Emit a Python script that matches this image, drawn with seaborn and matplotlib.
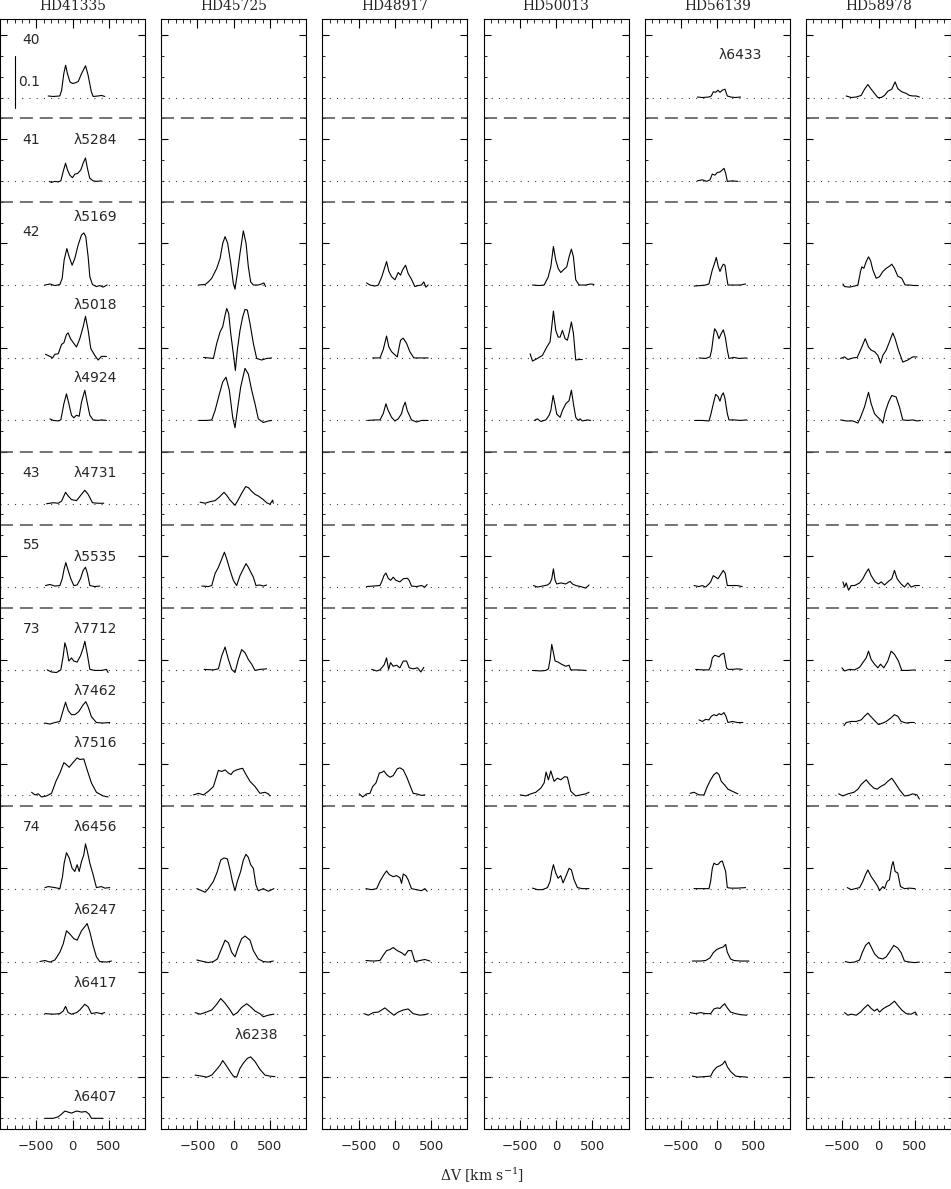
import numpy as np
import matplotlib
matplotlib.use("Agg")
import matplotlib.pyplot as plt
import seaborn as sns
from matplotlib.ticker import FixedLocator, NullFormatter, FixedFormatter

STARS = ["HD41335", "HD45725", "HD48917", "HD50013", "HD56139", "HD58978"]
ROWS = ["6433", "5284", "5169", "5018", "4924", "4731", "5535", "7712",
        "7462", "7516", "6456", "6247", "6417", "6238", "6407"]
BASELINES = [1.96, 1.80, 1.60, 1.46, 1.34, 1.18, 1.02, 0.86,
             0.76, 0.62, 0.44, 0.30, 0.20, 0.08, 0.00]
SEPARATORS = [1.92, 1.76, 1.28, 1.14, 0.98, 0.60]
MULTIPLETS = ["40", "41", "42", "43", "55", "73", "74"]
MULT_Y = [2.070, 1.879, 1.702, 1.240, 1.101, 0.940, 0.559]
XTICKS = [-500, 0, 500]
XTICKLABELS = ["\u2212500", "0", "500"]

# velocity (km/s) and relative flux for each emission profile
HD41335 = {
    "6433": ([-335,-265,-175,-150,-120,-95,-70,-35,0,35,80,125,180,215,260,285,355,400,445],
             [.003,.002,.003,.014,.046,.062,.046,.030,.027,.028,.031,.046,.061,.043,.011,.002,.003,.004,.002]),
    "5284": ([-320,-290,-243,-197,-161,-128,-96,-69,-37,0,32,69,115,147,179,206,238,284,330,399],
             [-.001,-.003,-.001,-.002,0,.018,.034,.021,.011,.006,.013,.014,.021,.034,.044,.024,.005,0,-.001,0]),
    "5169": ([-381,-312,-243,-174,-142,-115,-78,-46,-5,32,78,124,156,183,216,239,275,330,376,422,477],
             [0,.002,-.001,.001,.013,.048,.070,.054,.038,.051,.077,.096,.100,.093,.054,.016,.001,-.003,-.001,-.004,0]),
    "5018": ([-372,-312,-275,-243,-197,-151,-119,-83,-60,-28,18,55,101,147,179,216,252,307,353,399,468],
             [.007,.003,0,.007,.008,.026,.029,.045,.048,.037,.028,.021,.037,.060,.080,.053,.018,.005,-.004,.003,.003]),
    "4924": ([-312,-266,-197,-161,-119,-83,-50,-14,18,55,92,124,170,202,239,284,353,399,468],
             [.003,0,-.001,.001,.032,.051,.032,.010,.005,.010,.008,.035,.058,.035,.010,.001,0,.001,0]),
    "4731": ([-358,-266,-197,-151,-96,-60,-14,55,124,170,216,275,353,431],
             [0,.002,.001,.005,.022,.015,.008,.006,.018,.026,.018,.002,.001,.001]),
    "5535": ([-372,-312,-243,-174,-142,-115,-92,-60,-23,18,64,110,147,179,206,239,307,376],
             [.003,.005,.002,.003,.016,.035,.047,.032,.016,.003,.004,.016,.032,.038,.026,.003,.001,.002]),
    "7712": ([-349,-289,-220,-161,-128,-105,-83,-50,-14,18,64,110,147,170,202,239,307,399,468,491],
             [.001,-.003,-.004,.001,.028,.053,.043,.018,.024,.018,.016,.028,.043,.056,.033,.002,0,0,.002,-.004]),
    "7462": ([-381,-312,-243,-174,-128,-96,-60,-14,32,87,147,183,216,261,330,422,514],
             [-.001,-.003,0,.002,.024,.039,.023,.015,.015,.021,.034,.040,.030,.011,0,-.001,0]),
    "7516": ([-564,-518,-472,-427,-358,-289,-229,-174,-119,-83,-46,0,64,101,156,202,261,330,422,491],
             [.006,.001,.003,-.003,-.001,.004,.027,.043,.063,.059,.054,.062,.072,.069,.070,.049,.024,.006,-.001,-.003]),
    "6456": ([-381,-335,-243,-174,-138,-115,-83,-46,-5,32,64,92,124,156,179,206,239,284,330,399,445,514],
             [.003,.005,.003,.001,.024,.050,.070,.060,.040,.034,.047,.034,.053,.066,.087,.072,.050,.028,.003,.005,.002,.003]),
    "6247": ([-450,-381,-312,-243,-174,-128,-83,-37,18,64,124,202,239,284,330,376,468,537],
             [.001,.003,0,.004,.019,.035,.060,.054,.045,.042,.060,.074,.058,.032,.010,.001,0,.002]),
    "6417": ([-381,-266,-174,-128,-96,-60,-14,55,101,170,216,261,330,399,445],
             [.001,0,.001,.006,.015,.003,0,.003,.008,.019,.014,.001,.003,.001,.003]),
    "6407": ([-381,-266,-197,-151,-105,-60,-14,55,124,183,229,261,353,422],
             [0,0,.003,.008,.014,.012,.010,.014,.012,.013,.008,0,0,0]),
}

HD45725 = {
    "5169": ([-486,-394,-349,-303,-234,-188,-151,-119,-83,-41,-5,18,50,87,133,170,202,234,271,339,385,417,440],
             [0,.001,.006,.013,.032,.051,.080,.093,.080,.042,.003,-.008,.022,.061,.104,.080,.035,.006,0,0,.002,.004,-.003]),
    "5018": ([-417,-280,-234,-188,-151,-119,-96,-69,-41,-5,23,50,87,124,156,188,225,271,317,385,454,523],
             [.001,-.001,.028,.050,.060,.082,.095,.085,.047,.008,-.024,.015,.053,.079,.093,.092,.066,.028,-.001,-.004,-.001,0]),
    "4924": ([-477,-372,-303,-257,-197,-151,-106,-60,-14,18,50,96,156,202,248,294,339,408,477,523],
             [0,0,.001,.019,.051,.074,.083,.058,.006,-.014,.019,.064,.100,.089,.058,.032,.003,-.004,-.001,0]),
    "4731": ([-463,-395,-326,-257,-197,-133,-96,-50,18,64,110,165,202,248,294,339,408,454,500,537,546],
             [.003,.001,.004,.006,.013,.022,.016,.007,-.003,.008,.020,.033,.031,.024,.018,.015,.008,.002,-.001,.007,.001]),
    "5535": ([-440,-349,-303,-257,-211,-165,-128,-96,-50,-5,41,87,133,170,202,234,271,307,362,408,454],
             [.002,.001,.003,.026,.038,.054,.067,.054,.032,.013,.003,.022,.035,.045,.038,.029,.019,.003,.004,.002,.004]),
    "7712": ([-408,-280,-211,-165,-119,-73,-28,18,64,110,156,202,248,294,362,454],
             [.002,.001,.003,.028,.045,.021,.002,-.004,.021,.040,.034,.021,.012,0,.002,.003]),
    "7516": ([-555,-486,-417,-349,-280,-211,-165,-119,-73,-37,-5,41,87,124,170,225,294,362,431,477,500],
             [.001,.004,.001,.008,.017,.048,.046,.049,.043,.040,.046,.049,.051,.052,.040,.027,.017,.004,.006,.003,-.001]),
    "6456": ([-509,-440,-395,-349,-280,-225,-179,-133,-87,-50,-18,18,50,96,133,170,202,234,271,307,339,408,477,555],
             [.001,-.003,-.006,.001,.015,.034,.056,.060,.058,.037,.015,-.003,.015,.034,.056,.067,.061,.047,.040,.008,-.003,.001,-.004,.001]),
    "6247": ([-509,-417,-349,-280,-225,-179,-119,-73,-28,18,64,110,156,225,271,339,408,477,546],
             [.004,.001,-.001,.001,.006,.022,.042,.037,.019,.010,.029,.045,.050,.042,.022,.006,.001,0,.002]),
    "6417": ([-532,-463,-395,-303,-234,-179,-119,-50,-5,50,110,179,234,294,362,408,477,555],
             [.003,0,.003,.008,.019,.030,.021,.008,-.002,.003,.013,.020,.014,.006,.001,-.005,-.002,0]),
    "6238": ([-532,-440,-372,-303,-234,-188,-151,-106,-50,-5,41,87,133,188,234,294,362,431,500,569],
             [.003,.001,-.001,.003,.014,.022,.031,.022,.010,.001,-.001,.016,.026,.035,.038,.029,.014,.003,.001,0]),
}

HD48917 = {
    "5169": ([-390,-344,-275,-229,-183,-151,-115,-83,-46,0,46,78,106,147,183,229,275,321,367,399,427,459],
             [.004,0,-.002,0,.015,.029,.045,.026,.016,.010,.024,.019,.029,.038,.022,.011,-.003,-.001,0,.006,-.004,0]),
    "5018": ([-307,-206,-161,-115,-83,-46,0,32,78,115,161,206,261,344,459],
             [0,0,.016,.042,.021,.012,.006,.002,.034,.038,.028,.012,0,0,0]),
    "4924": ([-376,-275,-206,-161,-124,-92,-46,0,46,92,115,142,170,229,298,367,459],
             [0,.001,.001,.013,.032,.019,.006,-.001,.003,.013,.026,.035,.019,.001,-.003,0,0]),
    "5535": ([-390,-298,-206,-183,-151,-124,-92,-60,-23,14,69,115,170,197,229,298,367,413,445],
             [.001,.002,.003,.010,.022,.027,.017,.013,.019,.013,.010,.016,.017,.013,.002,.001,.003,0,.005]),
    "7712": ([-321,-252,-206,-170,-147,-115,-87,-60,-23,23,69,115,161,197,252,312,358,399],
             [.002,-.001,.001,.007,.011,.024,.002,.015,.008,.010,.005,.018,.018,.005,.003,.005,-.003,.006]),
    "7516": ([-491,-445,-390,-344,-307,-261,-215,-183,-151,-115,-69,-23,32,69,115,161,206,252,298,367,413],
             [.003,-.003,.003,.004,.017,.024,.043,.044,.047,.040,.035,.038,.051,.053,.049,.036,.020,.004,.003,0,.001]),
    "6456": ([-399,-321,-252,-206,-151,-115,-78,-23,23,69,92,115,151,183,229,298,367,413,445],
             [.001,-.001,.001,.015,.028,.035,.028,.024,.026,.022,.011,.029,.026,.018,.001,-.001,-.003,.001,-.004]),
    "6247": ([-399,-298,-206,-161,-115,-69,-23,32,92,138,183,229,275,344,413,482],
             [.003,.002,.003,.013,.022,.024,.028,.022,.018,.013,.022,.022,.001,.003,.005,.002]),
    "6417": ([-427,-367,-298,-229,-138,-69,-14,46,115,183,252,344,413,459],
             [.001,-.002,.003,.004,.012,.004,-.002,.004,.008,.010,.001,-.002,-.001,.001]),
}

HD50013 = {
    "5169": ([-326,-234,-165,-110,-73,-37,-5,28,64,101,147,179,211,239,271,317,408,477,523],
             [0,-.001,0,.015,.035,.074,.048,.032,.024,.029,.035,.054,.069,.054,.010,0,0,.002,.001]),
    "5018": ([-358,-326,-257,-188,-128,-83,-60,-37,-5,28,55,87,124,156,183,211,239,271,317,362],
             [.008,-.006,-.001,.005,.021,.031,.060,.090,.053,.040,.040,.053,.037,.034,.050,.069,.047,-.004,-.003,-.003]),
    "4924": ([-303,-257,-211,-142,-96,-73,-41,-18,9,55,87,133,179,211,239,271,303,330,362,431,477],
             [0,.003,-.002,.001,.010,.019,.048,.032,.012,.006,.019,.032,.038,.058,.032,.006,0,.003,-.001,.001,0]),
    "5535": ([-312,-257,-188,-119,-83,-60,-37,-14,9,64,133,193,225,271,339,408,454],
             [.003,0,.002,.004,.008,.016,.035,.013,.006,.008,.006,.011,.006,.003,.001,-.002,.004]),
    "7712": ([-326,-211,-142,-106,-83,-60,-37,-14,28,73,133,179,202,294,408],
             [0,-.001,0,.003,.021,.050,.034,.018,.016,.012,.008,.010,.001,.001,0]),
    "7516": ([-495,-417,-349,-280,-211,-165,-138,-106,-73,-28,18,64,119,156,202,271,339,408,454],
             [.001,-.001,.003,.006,.014,.024,.045,.030,.047,.027,.033,.030,.036,.035,.008,-.001,.001,.003,.006]),
    "6456": ([-326,-257,-188,-119,-83,-60,-37,-5,28,64,96,133,179,211,248,294,362,408,454],
             [.002,-.001,-.001,.003,.015,.034,.047,.031,.021,.026,.012,.024,.040,.037,.018,.003,.001,.001,.001]),
}

HD56139 = {
    "6433": ([-275,-206,-115,-83,-55,-23,9,37,69,106,138,183,252,321],
             [.001,0,.001,.003,.011,.010,.014,.010,.014,.016,.003,.001,0,.001]),
    "5284": ([-275,-206,-147,-101,-69,-32,0,37,69,92,115,138,206,284],
             [0,.002,-.001,.002,.013,.011,.016,.017,.021,.024,.015,-.001,0,-.001]),
    "5169": ([-321,-229,-161,-115,-92,-69,-37,-14,14,37,60,83,106,128,147,229,321,390],
             [-.002,-.001,0,.002,.016,.029,.042,.053,.035,.026,.034,.040,.038,.016,0,0,0,.002]),
    "5018": ([-252,-161,-101,-78,-55,-37,-9,23,55,83,110,138,161,229,298,404],
             [0,-.001,.002,.015,.040,.056,.050,.037,.047,.054,.040,.015,-.001,.001,-.001,0]),
    "4924": ([-312,-206,-115,-92,-55,-23,9,37,60,83,106,138,161,229,321,404],
             [0,0,-.001,.010,.032,.050,.046,.037,.048,.053,.042,.013,.001,.001,0,.001]),
    "5535": ([-321,-252,-206,-161,-115,-92,-55,-23,9,46,83,110,138,206,275,344],
             [.003,.001,.003,0,.006,.010,.022,.019,.016,.024,.032,.026,.003,.003,.003,.001]),
    "7712": ([-298,-206,-115,-92,-69,-37,-9,23,55,92,128,151,206,275,344],
             [.002,.001,.001,.008,.024,.029,.028,.026,.031,.033,.005,.002,.002,.003,.002]),
    "7462": ([-252,-206,-161,-115,-83,-46,-9,23,55,92,119,147,206,275,353],
             [.005,.002,.006,.005,.012,.015,.013,.017,.015,.019,.012,0,.002,0,0]),
    "7516": ([-376,-321,-252,-183,-138,-92,-46,-9,23,55,101,147,206,284],
             [.004,.006,.001,.001,.017,.030,.040,.044,.040,.027,.020,.012,.008,.003]),
    "6456": ([-321,-206,-115,-92,-69,-46,-14,14,46,69,92,115,138,183,275,390],
             [.001,.001,.001,.015,.040,.050,.047,.048,.053,.054,.044,.034,.003,.002,.002,.003]),
    "6247": ([-344,-229,-161,-101,-55,-9,37,83,115,138,183,229,321,436],
             [.002,.002,.003,.008,.018,.024,.027,.029,.034,.019,.006,.003,.002,.002]),
    "6417": ([-376,-298,-229,-161,-92,-46,0,37,69,101,138,183,252,321,404],
             [.003,.001,.003,.001,.001,.010,.012,.011,.016,.020,.012,.004,.001,-.001,-.002]),
    "6238": ([-344,-275,-183,-92,-55,-9,37,73,106,138,183,252,321,413],
             [.001,-.001,0,.001,.011,.018,.021,.024,.030,.019,.010,.001,0,-.001]),
}

HD58978 = {
    "6433": ([-445,-376,-307,-239,-193,-147,-101,-55,-9,37,83,128,183,229,266,321,381,427,472,518,564],
             [.003,0,.001,.004,.016,.025,.016,.008,0,0,.004,.012,.016,.030,.017,.011,.008,.004,.003,.003,.001]),
    "5169": ([-491,-468,-399,-330,-284,-248,-229,-202,-170,-138,-110,-78,-32,14,60,106,151,183,220,266,321,367,427,495,550],
             [.002,-.003,-.004,-.002,0,.026,.035,.032,.045,.054,.047,.029,.013,.016,.026,.032,.036,.040,.032,.017,.013,0,0,-.001,-.001]),
    "5018": ([-523,-468,-422,-353,-294,-239,-183,-138,-101,-55,-9,28,60,106,151,197,229,275,335,404,472,532],
             [-.001,.002,-.003,0,.001,.018,.037,.021,.015,.012,.005,-.010,.005,.015,.031,.048,.037,.015,-.008,-.004,.002,.002]),
    "4924": ([-523,-445,-353,-284,-248,-193,-138,-101,-55,-9,37,60,92,138,183,243,289,335,404,472,532,578],
             [.001,-.001,-.001,-.005,.006,.026,.054,.032,.013,.006,0,-.005,.016,.035,.048,.045,.026,.001,0,.001,-.001,0]),
    "5535": ([-491,-468,-445,-413,-376,-330,-261,-216,-179,-138,-101,-46,0,37,83,128,183,220,257,312,358,404,450,505,564],
             [.010,0,.008,-.006,.003,.003,.008,.016,.026,.035,.022,.010,.006,.010,.004,.010,.016,.032,.016,.006,0,.008,0,.003,.003]),
    "7712": ([-505,-468,-399,-330,-261,-216,-170,-138,-101,-55,-9,28,73,128,174,220,275,321,404,505],
             [.005,-.001,.002,.001,.006,.015,.024,.037,.021,.012,.005,.012,.005,.018,.037,.031,.018,0,0,.001]),
    "7462": ([-477,-445,-376,-307,-239,-193,-147,-110,-55,0,60,106,165,220,266,312,381,440,495],
             [-.006,0,.002,.002,.005,.012,.018,.012,.004,-.004,-.001,.002,.008,.015,.012,.002,-.001,0,0]),
    "7516": ([-550,-491,-422,-339,-284,-239,-170,-124,-64,-18,28,83,128,183,229,289,358,413,472,532,564],
             [.003,-.001,.003,.006,.012,.021,.030,.022,.014,.012,.017,.021,.027,.033,.024,.011,-.001,0,.003,.001,-.007]),
    "6456": ([-431,-376,-321,-261,-216,-179,-147,-101,-55,-9,14,60,83,119,151,183,202,229,266,303,358,427,505],
             [.003,-.001,.001,.003,.015,.028,.037,.024,.015,.005,-.003,.005,.001,.015,.018,.045,.053,.034,.031,.005,.001,.002,.001]),
    "6247": ([-459,-399,-330,-261,-225,-179,-133,-101,-55,0,60,106,151,211,266,312,358,427,495,564],
             [.001,-.001,0,.004,.018,.032,.038,.029,.016,.008,.006,.010,.019,.032,.027,.018,.002,0,-.001,0]),
    "6417": ([-468,-422,-376,-307,-248,-202,-147,-101,-55,-18,14,60,106,151,220,266,321,381,450,505,532],
             [.003,-.002,0,-.002,.004,.011,.018,.011,.006,.010,.004,.010,.014,.017,.025,.017,.008,.001,0,.004,-.002]),
}

DATA = [HD41335, HD45725, HD48917, HD50013, HD56139, HD58978]

# wavelength labels: (panel, text, y)
LAMBDA_LABELS = [
    (0, "5284", 1.879), (0, "5169", 1.731), (0, "5018", 1.562), (0, "4924", 1.421),
    (0, "4731", 1.240), (0, "5535", 1.078), (0, "7712", 0.940), (0, "7462", 0.820),
    (0, "7516", 0.720), (0, "6456", 0.559), (0, "6247", 0.400), (0, "6417", 0.260),
    (0, "6407", 0.041), (1, "6238", 0.160), (4, "6433", 2.041),
]

sns.set_style("white")
plt.rcParams['font.family'] = ['DejaVu Sans']
plt.rcParams['mathtext.fontset'] = 'dejavuserif'

W, H = 951, 1189
fig = plt.figure(figsize=(W / 100, H / 100), dpi=100)
YMIN, YMAX = -0.0205, 2.1102

for i, (star, prof) in enumerate(zip(STARS, DATA)):
    ax = fig.add_axes([161.2 * i / W, 60 / H, 145 / W, 1109.7 / H])
    ax.set_xlim(-1000, 1000)
    ax.set_ylim(YMIN, YMAX)
    for b in BASELINES:
        ax.axhline(b, color='0.25', lw=0.8, ls=(0, (1, 5.5)))
    for s in SEPARATORS:
        ax.axhline(s, color='0.3', lw=1.1, ls=(0, (8.5, 4.5)))
    for key, (v, f) in prof.items():
        base = BASELINES[ROWS.index(key)]
        sns.lineplot(x=np.array(v, float), y=np.array(f, float) + base, ax=ax,
                     color='black', linewidth=0.8, estimator=None, sort=False)
    ax.set_xlabel('')
    ax.set_ylabel('')
    ax.xaxis.set_major_locator(FixedLocator(XTICKS))
    ax.xaxis.set_major_formatter(FixedFormatter(XTICKLABELS))
    ax.xaxis.set_minor_locator(FixedLocator(np.arange(-900, 901, 100)))
    ax.yaxis.set_major_locator(FixedLocator(np.arange(0.08, 2.1, 0.2)))
    ax.yaxis.set_minor_locator(FixedLocator(np.arange(0.0, 2.1, 0.04)))
    ax.yaxis.set_major_formatter(NullFormatter())
    ax.tick_params(which='both', direction='in', top=True, right=True,
                   bottom=True, left=True, color='black')
    ax.tick_params(axis='x', which='major', length=6.5, width=0.8,
                   labelsize=9.5, pad=8)
    ax.tick_params(axis='x', which='minor', length=3, width=0.6)
    ax.tick_params(axis='y', which='major', length=5, width=0.8)
    ax.tick_params(axis='y', which='minor', length=2.5, width=0.6)
    for sp in ax.spines.values():
        sp.set_linewidth(0.8)
        sp.set_color('black')
        sp.set_visible(True)

    for (p, lab, y) in LAMBDA_LABELS:
        if p == i:
            ax.text(15, y, "\u03bb" + lab, ha='left', va='center', fontsize=10)
    if i == 0:
        for lab, y in zip(MULTIPLETS, MULT_Y):
            ax.text(-690, y, lab, ha='left', va='center', fontsize=10)
        ax.plot([-793, -793], [1.939, 2.040], color='black', lw=0.8)
        ax.text(-752, 1.990, "0.1", ha='left', va='center', fontsize=10)

    fig.text((161.2 * i + 72.5) / W, 1 - 5.5 / H, star, ha='center', va='center',
             fontsize=10, family='DejaVu Serif')

fig.text(482 / W, 1 - 1175 / H, r'$\Delta$V [km s$^{-1}$]', ha='center', va='center',
         fontsize=10, family='DejaVu Serif')

fig.savefig("out.png", dpi=100)
